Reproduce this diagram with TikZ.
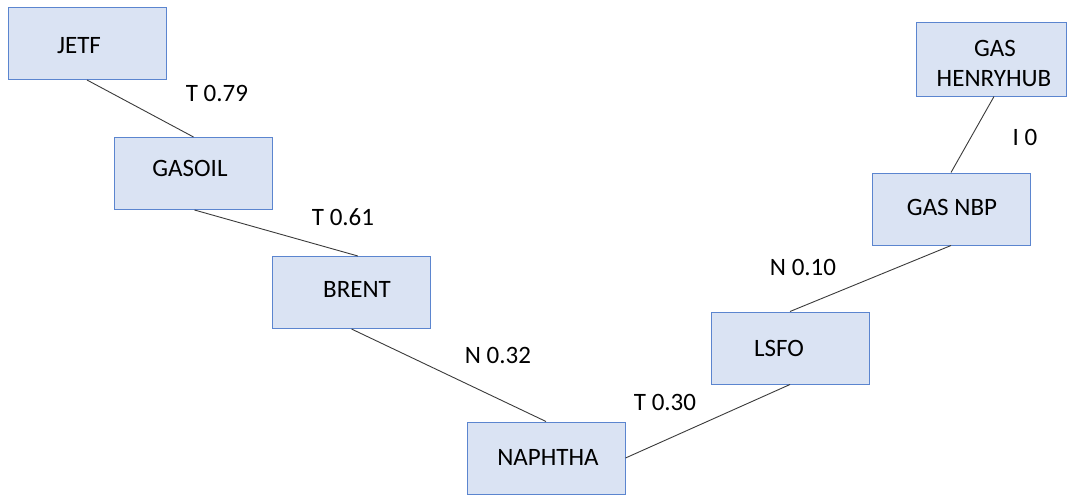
\documentclass[tikz,border=0pt]{standalone}
\usepackage{fontspec}
\setmainfont{Carlito}
\usetikzlibrary{calc}
\definecolor{boxfill}{HTML}{DAE3F3}
\definecolor{boxline}{HTML}{5B85CF}
\definecolor{linkline}{HTML}{3A3A3A}
\begin{document}
\begin{tikzpicture}[x=1pt,y=-1pt,
  box/.style={draw=boxline, fill=boxfill, line width=1pt, minimum width=158pt, minimum height=72pt, inner sep=0pt},
  txt/.style={font=\fontsize{25}{30}\selectfont, text height=16pt, text depth=0pt, inner sep=0pt},
  link/.style={draw=linkline, line width=0.9pt}]
  \useasboundingbox (0,0) rectangle (1068,495);

  % boxes
  \node[box] (jetf)    at (87,43.5)  {};
  \node[box] (gasoil)  at (193.5,173.5) {};
  \node[box] (brent)   at (351.5,292.5) {};
  \node[box] (naphtha) at (546,458) {};
  \node[box] (lsfo)    at (790,348) {};
  \node[box] (nbp)     at (951,209) {};
  \node[box, minimum width=150pt, minimum height=73pt] (henry) at (991,59.5) {};

  % box captions
  \node[txt] (tJetf)    at (79,46)   {JETF};
  \node[txt] (tGasoil)  at (190,168) {GASOIL};
  \node[txt] (tBrent)   at (357,289) {BRENT};
  \node[txt] (tNaphtha) at (548,457) {NAPHTHA};
  \node[txt] (tLsfo)    at (779,348) {LSFO};
  \node[txt] (tNbp)     at (952,207) {GAS NBP};
  \node[txt] (tHenryA)  at (995,49)  {GAS};
  \node[txt] (tHenryB)  at (994,78)  {HENRYHUB};

  % connectors
  \draw[link] (jetf.south) -- (gasoil.north);
  \draw[link] ($(gasoil.south)+(1,0)$) -- ($(brent.north west)!0.54!(brent.north east)$);
  \draw[link] (brent.south) -- (naphtha.north);
  \draw[link] (naphtha.east) -- (lsfo.south);
  \draw[link] (lsfo.north) -- (nbp.south);
  \draw[link] (nbp.north) -- ($(henry.south)+(3,0)$);

  % link labels
  \node[txt] (lJG) at (217,93)  {T 0.79};
  \node[txt] (lGB) at (343,217) {T 0.61};
  \node[txt] (lBN) at (498,355) {N 0.32};
  \node[txt] (lNL) at (665,402) {T 0.30};
  \node[txt] (lLN) at (803,267) {N 0.10};
  \node[txt] (lNH) at (1025,137) {I 0};
\end{tikzpicture}
\end{document}
